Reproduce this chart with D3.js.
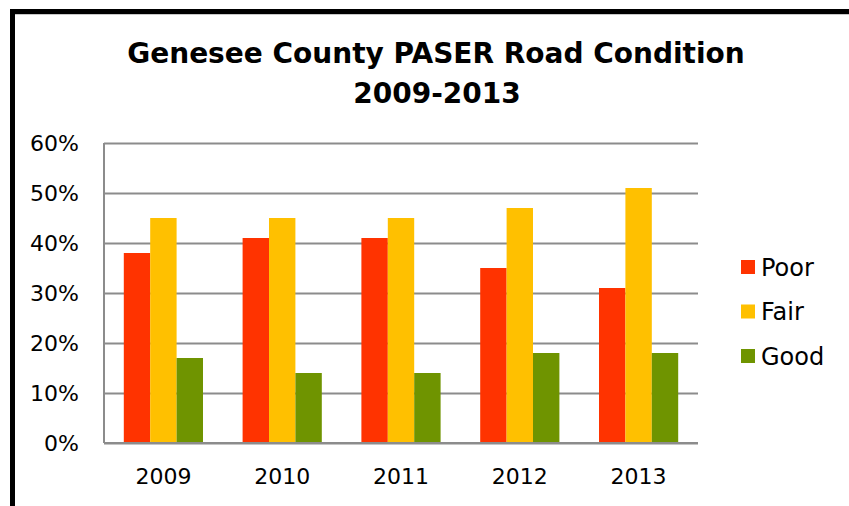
<!DOCTYPE html>
<html>
<head>
<meta charset="utf-8">
<script src="https://cdn.jsdelivr.net/npm/d3@7"></script>
<style>
  body { margin: 0; background: #fff; }
  svg { display: block; font-family: "DejaVu Sans", sans-serif; }
</style>
</head>
<body>
<svg id="chart" width="849" height="506"></svg>
<script>
// chart data
const years = ['2009', '2010', '2011', '2012', '2013'];
const series = ['Poor', 'Fair', 'Good'];
const poor = [38, 41, 41, 35, 31];
const fair = [45, 45, 45, 47, 51];
const good = [17, 14, 14, 18, 18];
const yTicks = [0, 10, 20, 30, 40, 50, 60];
const colors = ['#FF3300', '#FFC000', '#6F9400'];

const values = [poor, fair, good];

const svg = d3.select('#chart');
const margin = { left: 104, right: 151, top: 143, bottom: 63 };
const width = 849, height = 506;

// outer frame
svg.append('rect')
  .attr('x', 12.5).attr('y', 11.5)
  .attr('width', 900).attr('height', 600)
  .attr('fill', 'none')
  .attr('stroke', '#000')
  .attr('stroke-width', 5);
svg.append('line')
  .attr('x1', 15).attr('x2', width)
  .attr('y1', 14.5).attr('y2', 14.5)
  .attr('stroke', '#c8c8c8');

// title
const title = svg.append('text')
  .attr('text-anchor', 'middle')
  .attr('font-weight', 'bold')
  .attr('font-size', 28)
  .attr('fill', '#000');
title.append('tspan').attr('x', 436).attr('y', 63).text('Genesee County PASER Road Condition');
title.append('tspan').attr('x', 437).attr('y', 103).text('2009-2013');

const x = d3.scaleBand()
  .domain(years)
  .range([margin.left, width - margin.right]);

const inner = d3.scaleBand()
  .domain(series)
  .range([x.bandwidth() / 6, x.bandwidth() * 5 / 6]);

const y = d3.scaleLinear()
  .domain([0, 60])
  .range([height - margin.bottom, margin.top]);

// gridlines
svg.append('g')
  .attr('transform', `translate(${margin.left},0)`)
  .call(d3.axisLeft(y).tickValues(yTicks).tickSize(-(width - margin.left - margin.right)).tickFormat(''))
  .call(g => g.select('.domain').remove())
  .call(g => g.selectAll('line').attr('stroke', '#8c8c8c').attr('stroke-width', 2));

// bars
series.forEach((s, si) => {
  svg.append('g')
    .selectAll('rect')
    .data(years.map((yr, i) => ({ yr, v: values[si][i] })))
    .join('rect')
    .attr('x', d => x(d.yr) + inner(s))
    .attr('y', d => y(d.v))
    .attr('width', inner.bandwidth())
    .attr('height', d => y(0) - y(d.v))
    .attr('fill', colors[si]);
});

// axes lines
svg.append('line')
  .attr('x1', margin.left).attr('x2', margin.left)
  .attr('y1', y(60)).attr('y2', y(0))
  .attr('stroke', '#8c8c8c').attr('stroke-width', 2);
svg.append('line')
  .attr('x1', margin.left).attr('x2', width - margin.right)
  .attr('y1', y(0)).attr('y2', y(0))
  .attr('stroke', '#8c8c8c').attr('stroke-width', 2);

// y labels
svg.append('g')
  .attr('transform', `translate(${margin.left},0)`)
  .call(d3.axisLeft(y).tickValues(yTicks).tickSize(0).tickPadding(25).tickFormat(d => d + '%'))
  .call(g => g.select('.domain').remove())
  .call(g => g.selectAll('text')
    .attr('font-size', 22)
    .attr('fill', '#000')
    .attr('font-family', '"DejaVu Sans", sans-serif'));

// x labels
svg.append('g')
  .attr('transform', `translate(0,${y(0)})`)
  .call(d3.axisBottom(x).tickSize(0).tickPadding(25))
  .call(g => g.select('.domain').remove())
  .call(g => g.selectAll('text')
    .attr('font-size', 22)
    .attr('fill', '#000')
    .attr('font-family', '"DejaVu Sans", sans-serif'));

// legend
const legend = svg.append('g');
series.forEach((s, i) => {
  const cy = 267 + i * 44.5;
  legend.append('rect')
    .attr('x', 741).attr('y', cy - 7)
    .attr('width', 14).attr('height', 14)
    .attr('fill', colors[i]);
  legend.append('text')
    .attr('x', 761).attr('y', cy)
    .attr('dy', '0.36em')
    .attr('font-size', 24)
    .attr('fill', '#000')
    .text(s);
});
</script>
</body>
</html>
